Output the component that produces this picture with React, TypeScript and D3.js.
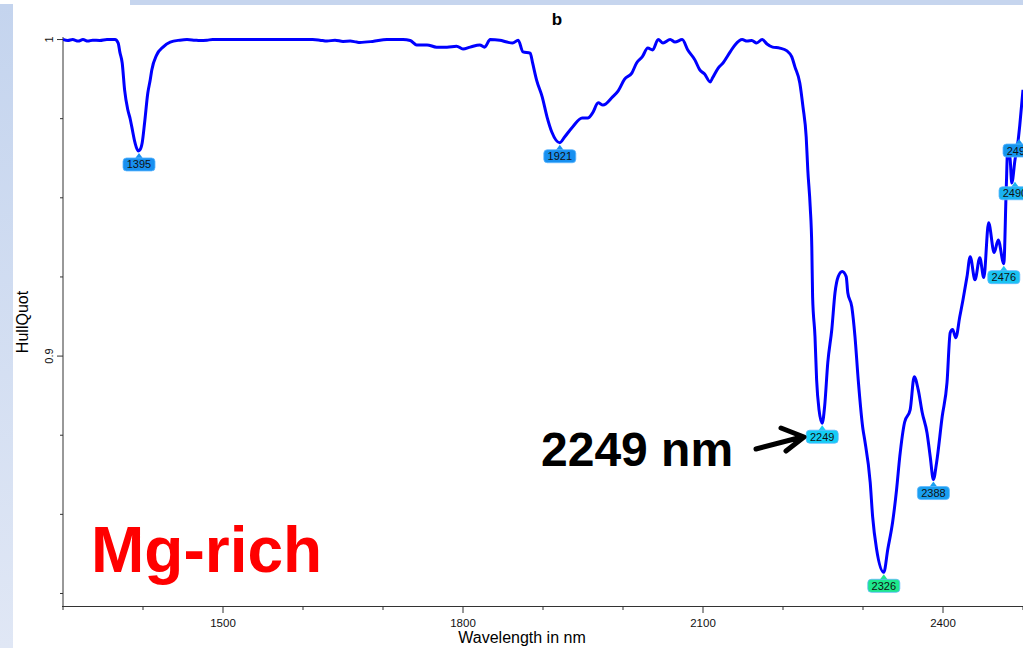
import React from "react";
import * as d3 from "d3";

const wavelengths = [
  1300, 1306, 1312, 1319, 1325, 1331, 1337, 1346, 1355, 1365, 1369, 1371, 1374, 1377, 1381, 1384, 1386, 1390, 1394, 1396,
  1399, 1402, 1406, 1409, 1411, 1417, 1425, 1434, 1446, 1455, 1465, 1471, 1480, 1487, 1521, 1546, 1587, 1612, 1621, 1630,
  1640, 1650, 1659, 1667, 1671, 1687, 1705, 1725, 1734, 1742, 1755, 1767, 1780, 1792, 1800, 1809, 1821, 1827, 1834, 1846,
  1855, 1862, 1869, 1875, 1884, 1887, 1892, 1899, 1905, 1911, 1921, 1927, 1937, 1949, 1956, 1962, 1969, 1975, 1987, 1994,
  2002, 2011, 2017, 2024, 2031, 2037, 2044, 2050, 2059, 2065, 2074, 2081, 2090, 2096, 2102, 2109, 2112, 2119, 2125, 2134,
  2140, 2149, 2155, 2161, 2167, 2174, 2180, 2187, 2196, 2205, 2211, 2215, 2221, 2225, 2229, 2231, 2234, 2236, 2237, 2240,
  2242, 2245, 2249, 2252, 2256, 2261, 2265, 2269, 2274, 2279, 2281, 2286, 2290, 2294, 2300, 2302, 2309, 2312, 2317, 2326,
  2331, 2337, 2342, 2346, 2352, 2359, 2364, 2369, 2374, 2380, 2384, 2388, 2392, 2399, 2405, 2409, 2412, 2416, 2421, 2425,
  2430, 2434, 2440, 2446, 2451, 2457, 2464, 2469, 2476, 2479, 2481, 2484, 2486, 2490, 2494, 2496, 2500,
];

const hullQuot = [
  1.0, 0.9997, 1.0, 0.9995, 1.0, 0.9995, 0.9998, 0.9997, 1.0, 1.0, 0.9989, 0.9961, 0.9926, 0.9841, 0.9778, 0.9749, 0.9724, 0.9674, 0.9648, 0.9651,
  0.9674, 0.9737, 0.9831, 0.9872, 0.9904, 0.9951, 0.9976, 0.9992, 0.9998, 1.0, 0.9998, 0.9997, 0.9998, 1.0, 1.0, 1.0, 1.0, 1.0, 0.9998, 0.9995,
  0.9998, 0.9994, 0.9995, 0.9992, 0.9991, 0.9994, 1.0, 1.0, 0.9997, 0.9983, 0.9983, 0.9976, 0.9976, 0.9979, 0.997, 0.9976, 0.9983, 0.9976, 1.0, 0.9998,
  0.9992, 0.9989, 0.9998, 0.9961, 0.9957, 0.9926, 0.9872, 0.9819, 0.9756, 0.9708, 0.9674, 0.9692, 0.9724, 0.9752, 0.9752, 0.9768, 0.98, 0.9793, 0.9819, 0.9838,
  0.9875, 0.9894, 0.9926, 0.9945, 0.9973, 0.9967, 1.0, 0.9989, 1.0, 0.9992, 1.0, 0.9967, 0.9935, 0.9904, 0.9891, 0.9866, 0.9879, 0.991, 0.9926, 0.9961,
  0.9983, 1.0, 0.9995, 0.9997, 0.9989, 1.0, 0.9986, 0.9976, 0.9973, 0.9964, 0.9945, 0.9913, 0.9863, 0.9787, 0.9692, 0.9588, 0.9472, 0.9345, 0.9188, 0.9061,
  0.8926, 0.8831, 0.8788, 0.884, 0.898, 0.9084, 0.92, 0.9251, 0.9267, 0.9251, 0.92, 0.9156, 0.9061, 0.8926, 0.8768, 0.8737, 0.8601, 0.8494, 0.839, 0.8317,
  0.839, 0.8475, 0.8579, 0.8683, 0.8791, 0.8831, 0.8935, 0.8894, 0.8822, 0.8758, 0.8683, 0.861, 0.8664, 0.8809, 0.8916, 0.9074, 0.9084, 0.9058, 0.9125, 0.9178,
  0.9251, 0.9314, 0.9241, 0.9311, 0.9248, 0.9421, 0.9327, 0.9367, 0.9292, 0.9525, 0.9661, 0.962, 0.9547, 0.962, 0.9683, 0.973, 0.9841,
];

const peakWavelengths = [1395, 1921, 2249, 2326, 2388, 2476, 2490, 2495];
const peakValues = [0.9648, 0.9674, 0.8788, 0.8317, 0.861, 0.9292, 0.9557, 0.9692];
const peakLabels = ["1395", "1921", "2249", "2326", "2388", "2476", "2490", "2495"];
const peakColors = ["#1890f0", "#1890f0", "#14cdf5", "#1ee88c", "#1a9ff0", "#1ac3f2", "#1ab2f0", "#1596ee"];

const xMajorTicks = [1500, 1800, 2100, 2400];
const xMinorTicks = [1300, 1400, 1600, 1700, 1900, 2000, 2200, 2300, 2500];
const yMajorTicks = [1, 0.9];
const yMinorTicks = [0.975, 0.95, 0.925, 0.875, 0.85, 0.825];

const FONT = "Arial, 'Liberation Sans', sans-serif";

export default function App() {
  const W = 1023;
  const H = 648;
  const x = d3.scaleLinear().domain([1300, 2500]).range([63, 1023]);
  const y = d3.scaleLinear().domain([0.82105, 1.0008]).range([606, 37]);
  const pts = wavelengths.map((w, i) => [w, hullQuot[i]] as [number, number]);
  const line = d3
    .line<[number, number]>()
    .x((d) => x(d[0]))
    .y((d) => y(d[1]))
    .curve(d3.curveMonotoneX);

  const arrowPath = "M756,449 L802,437 M781,428 L804,437 L786,451";

  return (
    <svg
      width={W}
      height={H}
      style={{ position: "absolute", left: 0, top: 0, background: "#fff" }}
      fontFamily={FONT}
    >
      <defs>
        <linearGradient id="leftGrad" x1="0" y1="0" x2="0" y2="1">
          <stop offset="0%" stopColor="#c4d4ee" />
          <stop offset="100%" stopColor="#e0e7f5" />
        </linearGradient>
        <clipPath id="plotClip">
          <rect x={63} y={20} width={W - 63} height={606 - 20} />
        </clipPath>
      </defs>
      <rect x={0} y={0} width={W} height={H} fill="#fff" />
      <rect x={130} y={0} width={W - 130} height={5} fill="#c6d5ee" />
      <rect x={0} y={4} width={13} height={H - 4} fill="url(#leftGrad)" />

      {/* title */}
      <text x={557} y={25} fontSize={17} fontWeight="bold" textAnchor="middle" fill="#000">
        b
      </text>

      {/* axes */}
      <line x1={63} y1={37} x2={63} y2={607} stroke="#333" strokeWidth={1} />
      <line x1={62} y1={606.5} x2={W} y2={606.5} stroke="#333" strokeWidth={1} />
      {xMajorTicks.map((t) => (
        <g key={"xM" + t}>
          <line x1={x(t)} x2={x(t)} y1={606} y2={613} stroke="#333" />
          <text x={x(t)} y={627} fontSize={11.5} textAnchor="middle" fill="#111">
            {t}
          </text>
        </g>
      ))}
      {xMinorTicks.map((t) => (
        <line key={"xm" + t} x1={x(t)} x2={x(t)} y1={606} y2={610} stroke="#333" />
      ))}
      {yMajorTicks.map((t) => (
        <g key={"yM" + t}>
          <line x1={57} x2={63} y1={y(t)} y2={y(t)} stroke="#333" />
          <text
            transform={`translate(53,${y(t)}) rotate(-90)`}
            fontSize={11}
            textAnchor="middle"
            fill="#111"
          >
            {t === 1 ? "1" : String(t)}
          </text>
        </g>
      ))}
      {yMinorTicks.map((t) => (
        <line key={"ym" + t} x1={60} x2={63} y1={y(t)} y2={y(t)} stroke="#333" />
      ))}
      <text x={522} y={643} fontSize={16} textAnchor="middle" fill="#000">
        Wavelength in nm
      </text>
      <text transform="translate(28,322) rotate(-90)" fontSize={16} textAnchor="middle" fill="#000">
        HullQuot
      </text>

      {/* curve */}
      <g clipPath="url(#plotClip)">
        <path d={line(pts) || ""} fill="none" stroke="#0000ff" strokeWidth={3} strokeLinejoin="round" />
        {peakWavelengths.map((w, i) => {
          const cx = x(w);
          const cy = y(peakValues[i]);
          const bw = 32;
          const bh = 13;
          return (
            <g key={"pk" + w}>
              <path
                d={`M${cx},${cy + 2} L${cx - 4},${cy + 7.5} L${cx + 4},${cy + 7.5} Z`}
                fill={peakColors[i]}
              />
              <rect
                x={cx - bw / 2}
                y={cy + 7}
                width={bw}
                height={bh}
                rx={3.5}
                fill={peakColors[i]}
                stroke="#5fb8ff"
                strokeWidth={0.8}
              />
              <text x={cx} y={cy + 17.5} fontSize={11} textAnchor="middle" fill="#111">
                {peakLabels[i]}
              </text>
            </g>
          );
        })}
      </g>

      {/* annotations */}
      <text x={541} y={466} fontSize={48} fontWeight="bold" fill="#000">
        2249 nm
      </text>
      <path d={arrowPath} fill="none" stroke="#000" strokeWidth={5} strokeLinecap="round" strokeLinejoin="round" />
      <text x={91} y={572} fontSize={64} fontWeight="bold" fill="#ff0000">
        Mg-rich
      </text>
    </svg>
  );
}
